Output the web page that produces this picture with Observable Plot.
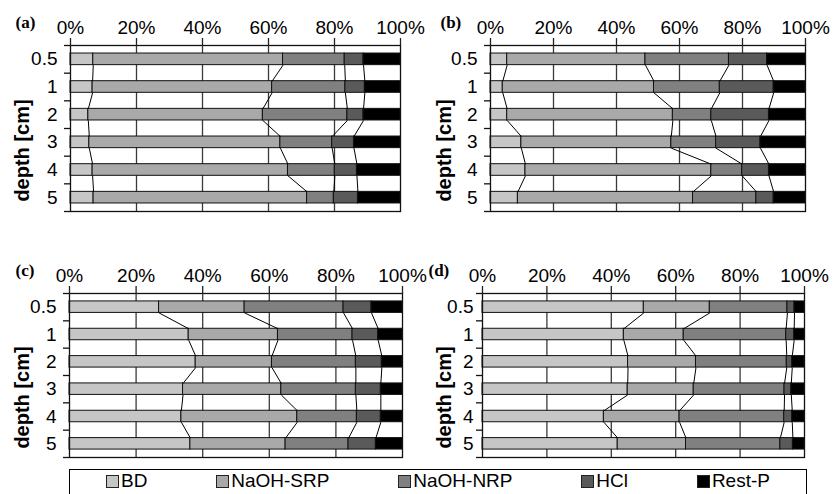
<!DOCTYPE html>
<html>
<head>
<meta charset="utf-8">
<script src="https://cdn.jsdelivr.net/npm/d3@7"></script>
<script src="https://cdn.jsdelivr.net/npm/@observablehq/plot@0.6"></script>
<style>
  body { margin: 0; background: #fff; }
  #fig { position: relative; width: 840px; height: 494px; overflow: hidden; background: #fff;
         font-family: "Liberation Sans", Arial, sans-serif; }
  .panel { position: absolute; }
  #legend { position: absolute; left: 69px; top: 469px; width: 738px; height: 40px;
            border: 1px solid #000; box-sizing: border-box; display: flex;
            justify-content: space-between; align-items: flex-start;
            padding: 1px 36px 0 36px; }
  .item { display: flex; align-items: center; font-size: 19px; color: #000; line-height: 20px; }
  .sw { width: 13px; height: 13px; border: 1px solid #222; margin-right: 2px; box-sizing: border-box; }
</style>
</head>
<body>
<div id="fig"></div>
<script>
// Depth classes (cm) and phosphorus fractions
const depths = ["0.5", "1", "2", "3", "4", "5"];
const fractions = ["BD", "NaOH-SRP", "NaOH-NRP", "HCl", "Rest-P"];
const tickValues = [0, 20, 40, 60, 80, 100];
const tickLabels = ["0%", "20%", "40%", "60%", "80%", "100%"];
const shades = ["#c6c6c6", "#a9a9a9", "#808080", "#5a5a5a", "#000000"];

// Share of each fraction (%) per depth, columns in the order of `fractions`
const siteA = [
  [6.9, 57.5, 18.7, 5.7, 11.2],
  [6.7, 54.4, 22.2, 5.9, 10.8],
  [5.4, 52.9, 25.6, 4.9, 11.2],
  [5.7, 57.9, 15.7, 6.6, 14.1],
  [6.7, 59.2, 14.2, 6.7, 13.2],
  [7.0, 64.7, 8.1, 7.3, 12.9]
];
const siteB = [
  [5.3, 43.9, 26.5, 12.1, 12.2],
  [3.9, 48.0, 20.9, 17.1, 10.1],
  [5.3, 52.6, 12.2, 18.3, 11.6],
  [9.8, 47.6, 14.2, 14.1, 14.3],
  [11.1, 59.0, 9.8, 8.5, 11.6],
  [8.7, 55.6, 20.1, 5.5, 10.1]
];
const siteC = [
  [26.9, 25.7, 29.7, 8.4, 9.3],
  [35.8, 26.8, 22.4, 7.7, 7.3],
  [37.9, 22.9, 25.2, 7.8, 6.2],
  [34.1, 29.5, 22.4, 7.5, 6.5],
  [33.6, 34.8, 17.9, 7.2, 6.5],
  [36.3, 28.6, 18.9, 8.2, 8.0]
];
const siteD = [
  [50.1, 20.5, 24.1, 2.2, 3.1],
  [43.9, 18.6, 31.8, 2.5, 3.2],
  [45.2, 21.1, 28.2, 1.7, 3.8],
  [45.1, 20.5, 28.2, 2.1, 4.1],
  [37.7, 23.5, 32.5, 2.5, 3.8],
  [42.0, 21.2, 29.3, 3.9, 3.6]
];

const HALF = 0.21; // half bar thickness, in depth-class units

function stackedPanel(tag, rows, o) {
  // cumulative boundaries per depth
  const cum = rows.map(r => { let s = 0; return r.map(v => (s += v)); });
  const segs = [];
  rows.forEach((r, i) => {
    let s = 0;
    r.forEach((v, k) => { segs.push({ i, k, x1: s, x2: s + v }); s += v; });
  });
  // connectors between matching boundaries of neighbouring bars
  const links = [];
  for (let k = 0; k < fractions.length - 1; k++) {
    for (let i = 0; i < rows.length - 1; i++) {
      links.push({ x1: cum[i][k], y1: i + HALF, x2: cum[i + 1][k], y2: i + 1 - HALF });
    }
  }
  const idx = depths.map((_, i) => i);
  const bounds = d3.range(-0.5, depths.length, 1);

  return Plot.plot({
    width: 420,
    height: 220,
    marginLeft: o.ml,
    marginRight: o.mr,
    marginTop: 45,
    marginBottom: o.mb,
    style: { fontFamily: "Liberation Sans, Arial, sans-serif", fontSize: "19px",
             background: "transparent", color: "black", overflow: "visible" },
    x: { domain: [0, 100] },
    y: { domain: [-0.5, depths.length - 0.5], reverse: true },
    color: { type: "identity" },
    marks: [
      Plot.ruleX(tickValues.slice(1, -1), { stroke: "#3a3a3a", strokeWidth: 1.3 }),
      Plot.rect(segs, {
        x1: "x1", x2: "x2",
        y1: d => d.i - HALF, y2: d => d.i + HALF,
        fill: d => shades[d.k], stroke: "#111", strokeWidth: 1
      }),
      Plot.link(links, { x1: "x1", y1: "y1", x2: "x2", y2: "y2", stroke: "#000", strokeWidth: 1 }),
      Plot.frame({ stroke: "#111", strokeWidth: 1.3 }),
      Plot.axisX(tickValues, {
        anchor: "top", tickSize: 8, tickPadding: 4,
        tickFormat: (d, i) => tickLabels[i], stroke: "#222", strokeWidth: 1.3
      }),
      Plot.axisY(bounds, { anchor: "left", tickSize: 6, tickFormat: () => "", stroke: "#111", strokeWidth: 1.3 }),
      Plot.axisY(idx, { anchor: "left", tickSize: 0, tickPadding: o.pad, tickFormat: i => depths[i] }),
      Plot.text(["depth [cm]"], {
        frameAnchor: "left", textAnchor: "middle", rotate: -90,
        dx: o.depthX - o.ml, dy: 22,
        fontWeight: "bold", fontSize: 20
      }),
      Plot.text([tag], {
        frameAnchor: "top-left", textAnchor: "start", lineAnchor: "bottom",
        dx: o.tagX - o.ml, dy: -18,
        fontFamily: "Liberation Serif, Times New Roman, serif", fontWeight: "bold", fontSize: 17
      })
    ]
  });
}

const fig = document.getElementById("fig");
const layout = [
  { tag: "(a)", rows: siteA, left: 0,   top: 0,   o: { ml: 70, mr: 20, mb: 9,  pad: 13, depthX: 22, tagX: 15 } },
  { tag: "(b)", rows: siteB, left: 420, top: 0,   o: { ml: 70, mr: 35, mb: 9,  pad: 13, depthX: 24, tagX: 20 } },
  { tag: "(c)", rows: siteC, left: 0,   top: 248, o: { ml: 69, mr: 18, mb: 11, pad: 13, depthX: 22, tagX: 15 } },
  { tag: "(d)", rows: siteD, left: 420, top: 248, o: { ml: 62, mr: 36, mb: 11, pad: 9,  depthX: 24, tagX: 8 } }
];
for (const p of layout) {
  const div = document.createElement("div");
  div.className = "panel";
  div.style.left = p.left + "px";
  div.style.top = p.top + "px";
  div.appendChild(stackedPanel(p.tag, p.rows, p.o));
  fig.appendChild(div);
}

// shared legend
const legend = document.createElement("div");
legend.id = "legend";
fractions.forEach((name, k) => {
  const item = document.createElement("div");
  item.className = "item";
  const sw = document.createElement("span");
  sw.className = "sw";
  sw.style.background = shades[k];
  const label = document.createElement("span");
  label.textContent = name;
  item.appendChild(sw);
  item.appendChild(label);
  legend.appendChild(item);
});
fig.appendChild(legend);
</script>
</body>
</html>
